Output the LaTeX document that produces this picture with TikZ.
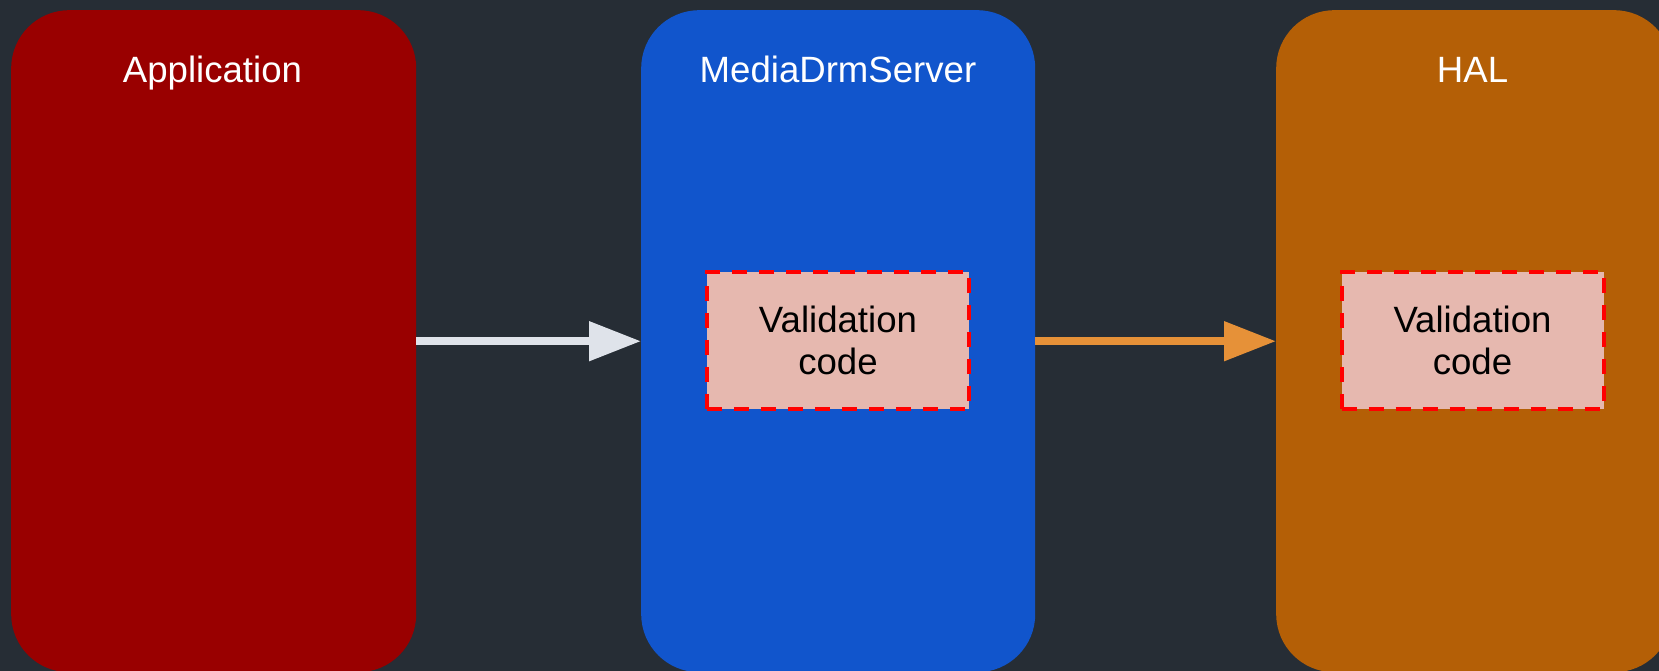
\documentclass[tikz,border=0pt]{standalone}
\usepackage{fontspec}
\setmainfont{Liberation Sans}
\usetikzlibrary{arrows.meta}

\definecolor{bg}{HTML}{262D35}
\definecolor{appred}{HTML}{990000}
\definecolor{mdsblue}{HTML}{1155CC}
\definecolor{halorange}{HTML}{B45F06}
\definecolor{valfill}{HTML}{E6B8AF}
\definecolor{arrowgrey}{HTML}{DFE3EA}
\definecolor{arroworange}{HTML}{E69138}

\tikzset{
  layerbox/.style={rectangle, rounded corners=58bp, draw=none, inner sep=0pt,
    minimum height=662bp, anchor=north west},
  layertitle/.style={anchor=base, text=white, inner sep=0pt,
    font=\fontsize{36.6bp}{42bp}\selectfont},
  checkbox/.style={rectangle, fill=valfill, draw=red, line width=4bp,
    dash pattern=on 15bp off 12bp, minimum width=262bp, minimum height=137bp,
    inner sep=0pt, align=center, text=black,
    font=\fontsize{36.6bp}{42bp}\selectfont},
  flow/.style={line width=8bp, -{Triangle[length=52bp, width=38bp]}},
}

\begin{document}
\begin{tikzpicture}[x=1bp, y=-1bp]
  \useasboundingbox (0,0) rectangle (1659,671);
  \fill[bg] (0,0) rectangle (1659,671);
  \clip (0,0) rectangle (1659,671);

  % the three layers
  \node[layerbox, fill=appred, minimum width=405bp] (app) at (11,10) {};
  \node[layerbox, fill=mdsblue, minimum width=394bp] (mds) at (641,10) {};
  \node[layerbox, fill=halorange, minimum width=396bp] (hal) at (1276,10) {};

  % layer titles
  \node[layertitle] (apptitle) at (212.5,83) {Application};
  \node[layertitle] (mdstitle) at (838,83) {MediaDrmServer};
  \node[layertitle] (haltitle) at (1472.5,83) {HAL};

  % validation blocks
  \node[checkbox] (mdscheck) at (838,340.5) {Validation\\code};
  \node[checkbox] (halcheck) at (1472.5,340.5) {Validation\\code};

  % calls between layers
  \draw[flow, draw=arrowgrey, fill=arrowgrey] (app.east) -- (mds.west);
  \draw[flow, draw=arroworange, fill=arroworange] (mds.east) -- (hal.west);
\end{tikzpicture}
\end{document}
